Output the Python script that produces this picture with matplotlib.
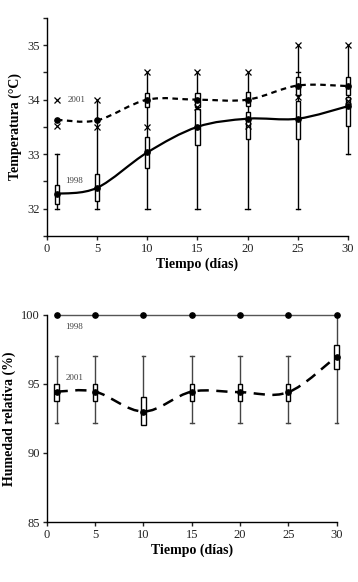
import numpy as np
import matplotlib.pyplot as plt
from matplotlib.path import Path
from matplotlib.patches import PathPatch, Rectangle

# --- Datos ---
dias = [1, 5, 10, 15, 20, 25, 30]

# Temperatura 1998 (línea continua)
t98_media = [32.27, 32.38, 33.03, 33.50, 33.65, 33.65, 33.88]
t98_q1 = [32.09, 32.13, 32.75, 33.17, 33.28, 33.28, 33.52]
t98_q3 = [32.43, 32.64, 33.32, 33.83, 33.77, 33.98, 34.05]
t98_min = [32.0, 32.0, 32.0, 32.0, 32.0, 32.0, 33.0]
t98_max = [33.0, 34.0, 34.5, 34.5, 34.5, 35.0, 35.0]

# Temperatura 2001 (línea discontinua)
t01_media = [33.63, 33.62, 34.0, 34.0, 34.0, 34.26, 34.25]
t01_q1 = [np.nan, np.nan, 33.86, 33.86, 33.89, 34.08, 34.08]
t01_q3 = [np.nan, np.nan, 34.12, 34.12, 34.14, 34.42, 34.42]
t01_xmax = [34.0, 34.0, 34.5, 34.5, 34.5, 35.0, 35.0]
t01_xmin = [33.52, 33.5, 33.49, 33.87, 33.52, 34.05, 33.98]

# Humedad relativa
h98_media = [100, 100, 100, 100, 100, 100, 100]
h01_media = [94.44, 94.44, 93.0, 94.44, 94.4, 94.4, 96.98]
h01_q1 = [93.8, 93.8, 92.0, 93.8, 93.8, 93.8, 96.06]
h01_q3 = [95.0, 95.0, 94.04, 95.0, 95.0, 95.0, 97.8]
h01_min = [92.2, 92.2, 92.2, 92.2, 92.2, 92.2, 92.2]
h01_max = [97.05, 97.05, 97.05, 97.05, 97.05, 97.05, 100]

plt.rcParams['font.family'] = ['Liberation Serif', 'DejaVu Serif']


def curva_suave(ax, x, y, **kw):
    """Línea suavizada (Catmull-Rom convertida a curvas Bezier)."""
    x = list(x)
    y = list(y)
    n = len(x)
    verts = [(x[0], y[0])]
    codes = [Path.MOVETO]
    for i in range(n - 1):
        i0 = max(i - 1, 0)
        i3 = min(i + 2, n - 1)
        c1 = (x[i] + (x[i + 1] - x[i0]) / 6, y[i] + (y[i + 1] - y[i0]) / 6)
        c2 = (x[i + 1] - (x[i3] - x[i]) / 6, y[i + 1] - (y[i3] - y[i]) / 6)
        verts += [c1, c2, (x[i + 1], y[i + 1])]
        codes += [Path.CURVE4] * 3
    ax.add_patch(PathPatch(Path(verts, codes), fill=False, clip_on=False, **kw))


def cajas(ax, x, q1, q3, ancho):
    for xi, a, b in zip(x, q1, q3):
        if np.isnan(a):
            continue
        ax.add_patch(Rectangle((xi - ancho / 2, a), ancho, b - a, facecolor='white',
                               edgecolor='black', lw=1.0, zorder=3, clip_on=False))


def bigotes(ax, x, lo, hi, ancho, color='black', caps_hi=True):
    for xi, a, b in zip(x, lo, hi):
        ax.plot([xi, xi], [a, b], color=color, lw=1.0, zorder=2, clip_on=False)
        ax.plot([xi - ancho / 2, xi + ancho / 2], [a, a], color=color, lw=1.0, zorder=2, clip_on=False)
        if caps_hi:
            ax.plot([xi - ancho / 2, xi + ancho / 2], [b, b], color=color, lw=1.0, zorder=2, clip_on=False)


def estilo(ax):
    for s in ['top', 'right']:
        ax.spines[s].set_visible(False)
    for s in ['left', 'bottom']:
        ax.spines[s].set_linewidth(1.0)
    ax.tick_params(direction='out', length=3, width=1.0, labelsize=9, colors='#222222', pad=2)
    ax.set_xlim(0, 30)
    ax.set_xticks(range(0, 31, 5))


fig = plt.figure(figsize=(3.58, 5.82), dpi=100)

# --- Panel superior: temperatura ---
ax1 = fig.add_axes([0.131, 0.595, 0.841, 0.374])
estilo(ax1)
ax1.set_ylim(31.5, 35.5)
ax1.set_yticks(np.arange(31.5, 35.51, 0.5))
ax1.set_yticklabels(['' if v != int(v) or v < 32 else str(int(v)) for v in np.arange(31.5, 35.51, 0.5)])

bigotes(ax1, dias[:1], t98_min[:1], t98_max[:1], 0.45)
bigotes(ax1, dias[1:], t98_min[1:], t98_max[1:], 0.45, caps_hi=False)
ax1.plot([25 - 0.22, 25 + 0.22], [34.5, 34.5], color='black', lw=1.0, zorder=2)
cajas(ax1, dias, t98_q1, t98_q3, 0.42)
cajas(ax1, dias, t01_q1, t01_q3, 0.42)
ax1.plot(dias, t01_xmax, 'x', color='black', ms=5, mew=0.9, zorder=4, clip_on=False)
ax1.plot(dias, t01_xmin, 'x', color='black', ms=5, mew=0.9, zorder=4, clip_on=False)

curva_suave(ax1, dias, t98_media, color='black', lw=1.6, zorder=5)
curva_suave(ax1, dias, t01_media, color='black', lw=1.6, linestyle=(0, (2.5, 2)), zorder=5)
ax1.plot(dias, t98_media, 'o', color='black', ms=3.8, zorder=6, clip_on=False)
ax1.plot(dias, t01_media, 'o', color='black', ms=3.8, zorder=6, clip_on=False)

ax1.text(2.1, 34.0, '2001', fontsize=6.5, color='#444444', va='center')
ax1.text(1.8, 32.5, '1998', fontsize=6.5, color='#444444', va='center')
ax1.set_xlabel('Tiempo (días)', fontsize=10, fontweight='bold', labelpad=2)
ax1.set_ylabel('Temperatura (°C)', fontsize=10, fontweight='bold', labelpad=4)

# --- Panel inferior: humedad relativa ---
ax2 = fig.add_axes([0.131, 0.103, 0.809, 0.356])
estilo(ax2)
ax2.set_ylim(85, 100)
ax2.set_yticks([85, 90, 95, 100])

bigotes(ax2, dias[:-1], h01_min[:-1], h01_max[:-1], 0.4, color='#444444')
bigotes(ax2, dias[-1:], h01_min[-1:], h01_max[-1:], 0.4, color='#444444', caps_hi=False)
cajas(ax2, dias, h01_q1, h01_q3, 0.45)
ax2.plot(dias, h98_media, '-', color='#555555', lw=1.0, zorder=4, clip_on=False)
ax2.plot(dias, h98_media, 'o', color='black', ms=3.8, zorder=6, clip_on=False)
curva_suave(ax2, dias, h01_media, color='black', lw=1.8, linestyle=(0, (4.5, 3)), zorder=5)
ax2.plot(dias, h01_media, 'o', color='black', ms=3.8, zorder=6, clip_on=False)

ax2.text(1.9, 99.15, '1998', fontsize=6.5, color='#444444', va='center')
ax2.text(1.9, 95.4, '2001', fontsize=6.5, color='#444444', va='center')
ax2.set_xlabel('Tiempo (días)', fontsize=10, fontweight='bold', labelpad=2)
ax2.set_ylabel('Humedad relativa (%)', fontsize=10, fontweight='bold', labelpad=4)

fig.savefig('out.png', dpi=100)
